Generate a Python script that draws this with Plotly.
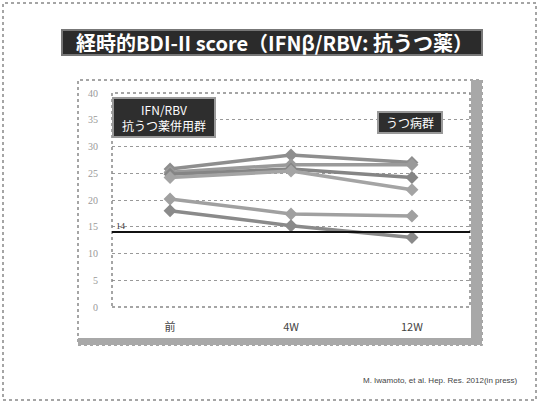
import plotly.graph_objects as go

# time points and BDI-II scores per patient
visits = ["前", "4W", "12W"]
depressed_group = [
    [25.8, 28.4, 27.0],
    [25.2, 26.6, 26.6],
    [24.8, 25.8, 24.2],
    [24.2, 25.4, 21.9],
]
other_group = [
    [20.2, 17.4, 17.0],
    [18.0, 15.2, 13.0],
]
cutoff = 14
y_ticks = [0, 5, 10, 15, 20, 25, 30, 35, 40]

W, H = 539, 403
PL, PR, PT, PB = 112, 470, 93, 307  # plot area in pixels


def px(x):
    return (x - PL) / (PR - PL)


def py(y):
    return (PB - y) / (PB - PT)


fig = go.Figure()

line_grays = ["#8e8e8e", "#9a9a9a", "#858585", "#a4a4a4", "#a0a0a0", "#8a8a8a"]
series = depressed_group + other_group
for i, vals in enumerate(series):
    fig.add_trace(go.Scatter(
        x=visits, y=vals, mode="lines+markers",
        line=dict(color=line_grays[i], width=3.5),
        marker=dict(symbol="diamond", size=10, color=line_grays[i]),
        showlegend=False, hoverinfo="skip",
    ))

shapes = []
# outer slide frame
shapes.append(dict(type="rect", xref="paper", yref="paper",
                   x0=px(3), x1=px(536), y0=py(400), y1=py(3),
                   line=dict(color="#888888", width=1.5, dash="dot"), layer="below"))
# chart panel
shapes.append(dict(type="rect", xref="paper", yref="paper",
                   x0=px(78), x1=px(482), y0=py(345), y1=py(80),
                   line=dict(color="#888888", width=1.5, dash="dot"), layer="below"))
shapes.append(dict(type="rect", xref="paper", yref="paper",
                   x0=px(471), x1=px(482), y0=py(345), y1=py(80),
                   fillcolor="#a8a8a8", line=dict(width=0), layer="below"))
shapes.append(dict(type="rect", xref="paper", yref="paper",
                   x0=px(78), x1=px(482), y0=py(345), y1=py(338),
                   fillcolor="#a8a8a8", line=dict(width=0), layer="below"))
# plot area border
shapes.append(dict(type="rect", xref="paper", yref="paper",
                   x0=0, x1=1, y0=0, y1=1,
                   line=dict(color="#888888", width=1.5, dash="dot")))
# cut-off reference line
shapes.append(dict(type="line", xref="paper", yref="y",
                   x0=0, x1=1, y0=cutoff, y1=cutoff,
                   line=dict(color="#111111", width=2)))
# title box
shapes.append(dict(type="rect", xref="paper", yref="paper",
                   x0=px(62), x1=px(482), y0=py(55), y1=py(30),
                   fillcolor="#2b2b2b", line=dict(color="#777777", width=2)))
# group labels
shapes.append(dict(type="rect", xref="paper", yref="paper",
                   x0=px(113), x1=px(215), y0=py(137), y1=py(98),
                   fillcolor="#2e2e2e", line=dict(color="#999999", width=2)))
shapes.append(dict(type="rect", xref="paper", yref="paper",
                   x0=px(378), x1=px(442), y0=py(133), y1=py(112),
                   fillcolor="#2e2e2e", line=dict(color="#999999", width=2)))

annotations = [
    dict(text="<b>経時的BDI-II score（IFNβ/RBV: 抗うつ薬）</b>", x=px(274), y=py(42.5),
         font=dict(size=20, color="#ffffff", family="Noto Sans CJK JP")),
    dict(text="IFN/RBV<br>抗うつ薬併用群", x=px(164), y=py(117.5),
         font=dict(size=12, color="#ffffff", family="Noto Sans CJK JP")),
    dict(text="うつ病群", x=px(410), y=py(122.5),
         font=dict(size=12, color="#ffffff", family="Noto Sans CJK JP")),
    dict(text=str(cutoff), x=px(121), y=py(226),
         font=dict(size=9, color="#333333", family="Liberation Serif")),
    dict(text="M. Iwamoto, et al. Hep. Res. 2012(in press)", x=px(440), y=py(380),
         font=dict(size=8, color="#444444", family="Liberation Sans")),
]
for a in annotations:
    a.update(xref="paper", yref="paper", showarrow=False, xanchor="center", yanchor="middle")

fig.update_layout(
    width=W, height=H,
    margin=dict(l=PL, r=W - PR, t=PT, b=H - PB, pad=0),
    paper_bgcolor="#ffffff", plot_bgcolor="#ffffff",
    shapes=shapes, annotations=annotations,
    xaxis=dict(type="category", range=[-0.48, 2.48], showgrid=False, zeroline=False,
               showline=False, ticks="", ticklabelstandoff=12,
               tickfont=dict(size=11, color="#444444", family="Noto Sans CJK JP")),
    yaxis=dict(range=[0, 40], tickvals=y_ticks, showgrid=True, griddash="dot",
               gridcolor="#999999", gridwidth=1, zeroline=False, showline=False,
               ticks="", ticklabelstandoff=13,
               tickfont=dict(size=10, color="#999999", family="Liberation Serif")),
)

fig.write_html("out.html")
